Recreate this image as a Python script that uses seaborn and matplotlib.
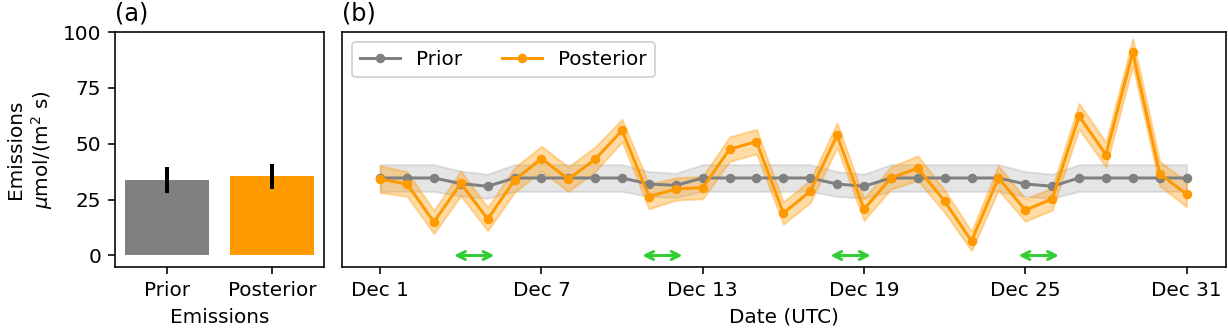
import numpy as np
import pandas as pd
import matplotlib
matplotlib.use("Agg")
import matplotlib.pyplot as plt
import seaborn as sns

plt.rcParams["font.family"] = ["DejaVu Sans"]

PRIOR_COLOR = "#808080"
POST_COLOR = "#ff9900"

# panel (a)
bar_labels = ["Prior", "Posterior"]
bar_values = [33.8, 35.4]
bar_errors = [5.7, 5.5]

# panel (b)
dates = pd.date_range("2023-12-01", periods=31, freq="D")
prior = [34.7, 34.7, 34.7, 32.2, 31.0, 34.7, 34.7, 34.7, 34.7, 34.7,
         32.0, 31.4, 34.7, 34.7, 34.7, 34.7, 34.7, 32.0, 31.0, 34.7,
         34.7, 34.7, 34.7, 34.7, 32.0, 31.0, 34.7, 34.7, 34.7, 34.7, 34.7]
prior_unc = [6.0, 6.0, 6.0, 5.6, 5.4, 6.0, 6.0, 6.0, 6.0, 6.0,
             5.6, 5.4, 6.0, 6.0, 6.0, 6.0, 6.0, 5.6, 5.4, 6.0,
             6.0, 6.0, 6.0, 6.0, 5.6, 5.4, 6.0, 6.0, 6.0, 6.0, 6.0]
posterior = [34.2, 32.0, 15.0, 32.3, 16.3, 33.8, 43.4, 34.2, 43.1, 56.0,
             26.4, 29.8, 30.4, 47.6, 51.0, 19.0, 28.7, 53.8, 20.7, 34.7,
             39.1, 24.3, 6.5, 34.8, 20.3, 25.3, 62.4, 45.2, 91.0, 36.7, 27.4]
post_unc = [6.0, 5.5, 5.2, 5.5, 5.2, 5.5, 5.5, 5.5, 5.5, 5.0,
            5.5, 5.0, 5.0, 5.5, 5.5, 5.0, 5.0, 5.5, 5.0, 5.0,
            5.5, 5.0, 4.3, 5.5, 5.0, 5.0, 5.7, 5.5, 6.0, 5.5, 5.6]
arrow_start = pd.to_datetime(["2023-12-03 18:00", "2023-12-10 18:00",
                              "2023-12-17 18:00", "2023-12-24 18:00"])
arrow_end = pd.to_datetime(["2023-12-05 06:00", "2023-12-12 06:00",
                            "2023-12-19 06:00", "2023-12-26 06:00"])
tick_days = [1, 7, 13, 19, 25, 31]

df = pd.DataFrame({"date": dates, "prior": prior, "prior_unc": prior_unc,
                   "posterior": posterior, "post_unc": post_unc})

fig, (ax1, ax2) = plt.subplots(1, 2, figsize=(1228 / 144, 328 / 144), dpi=144,
                               sharey=True,
                               gridspec_kw=dict(width_ratios=[209, 884]))
fig.subplots_adjust(left=0.0937, right=0.998, top=0.902, bottom=0.187, wspace=0.033)

# (a) bar chart
sns.barplot(x=bar_labels, y=bar_values, hue=bar_labels,
            palette=[PRIOR_COLOR, POST_COLOR], errorbar=None, ax=ax1,
            legend=False, saturation=1)
ax1.errorbar(np.arange(len(bar_labels)), bar_values, yerr=bar_errors,
             fmt="none", ecolor="black", elinewidth=2)
ax1.set_ylim(-5, 100)
ax1.set_yticks([0, 25, 50, 75, 100])
ax1.set_xlabel("Emissions")
ax1.set_ylabel("Emissions\n$\\mu$mol/(m$^2$ s)")
ax1.set_title("(a)", loc="left")

# (b) time series
ax2.fill_between(df["date"], df["prior"] - df["prior_unc"], df["prior"] + df["prior_unc"],
                 color=PRIOR_COLOR, alpha=0.2)
sns.lineplot(data=df, x="date", y="prior", marker="o", color=PRIOR_COLOR,
             markersize=4, markeredgecolor=PRIOR_COLOR, linewidth=1.5,
             label="Prior", ax=ax2)
ax2.fill_between(df["date"], df["posterior"] - df["post_unc"], df["posterior"] + df["post_unc"],
                 color=POST_COLOR, alpha=0.35)
sns.lineplot(data=df, x="date", y="posterior", marker="o", color=POST_COLOR,
             markersize=4, markeredgecolor=POST_COLOR, linewidth=1.5,
             label="Posterior", ax=ax2)

for s, e in zip(arrow_start, arrow_end):
    ax2.annotate("", xy=(e, 0), xytext=(s, 0),
                 arrowprops=dict(arrowstyle="<->", color="limegreen", lw=1.5,
                                 shrinkA=0, shrinkB=0))

ticks = [pd.Timestamp(2023, 12, d) for d in tick_days]
ax2.set_xticks(ticks)
ax2.set_xticklabels([f"Dec {d}" for d in tick_days])
ax2.set_xlim(dates[0] - pd.Timedelta(days=1.42), dates[-1] + pd.Timedelta(days=1.45))
ax2.tick_params(axis="y", left=False, labelleft=False)
ax2.set_xlabel("Date (UTC)")
ax2.set_ylabel("")
ax2.set_title("(b)", loc="left")
ax2.legend(loc="upper left", ncol=2)

fig.savefig("out.png", dpi=144)
